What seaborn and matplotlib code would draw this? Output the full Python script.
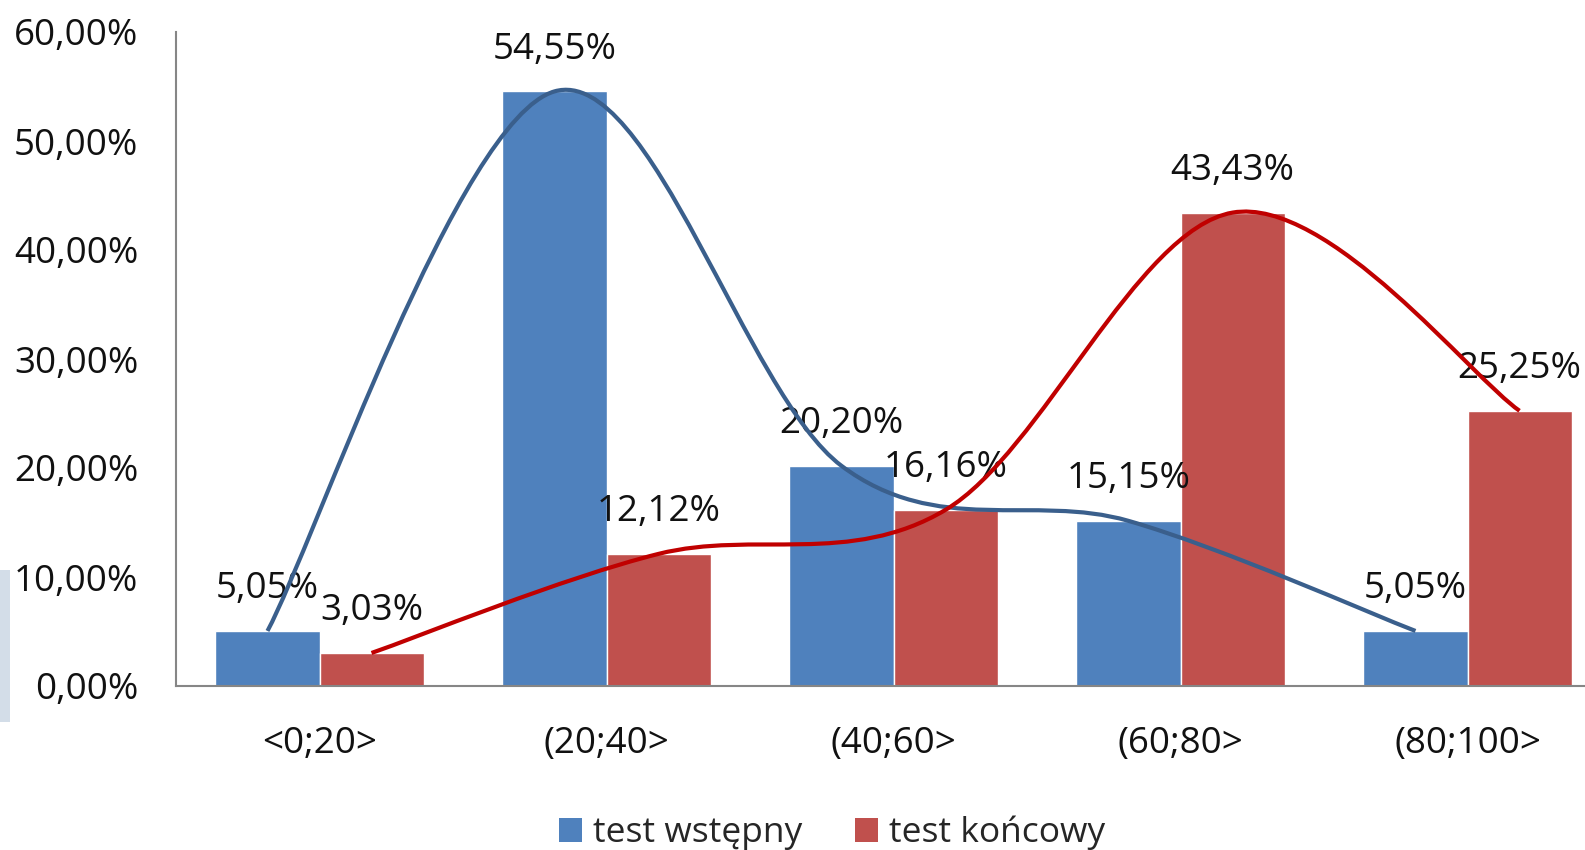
import numpy as np
import pandas as pd
import matplotlib
matplotlib.use("Agg")
import matplotlib.pyplot as plt
from matplotlib.path import Path
from matplotlib.patches import PathPatch, Patch, Rectangle
import seaborn as sns

categories = ["<0;20>", "(20;40>", "(40;60>", "(60;80>", "(80;100>"]
series_names = ["test wstępny", "test końcowy"]
test_wstepny = [5.05, 54.55, 20.20, 15.15, 5.05]
test_koncowy = [3.03, 12.12, 16.16, 43.43, 25.25]
y_ticks = [0, 10, 20, 30, 40, 50, 60]

bar_colors = ["#4F81BD", "#C0504D"]
line_colors = ["#3A5F8C", "#C00000"]

sns.set_theme(style="white")
plt.rcParams["font.family"] = ["Open Sans", "DejaVu Sans"]

df = pd.DataFrame({
    "cat": categories * 2,
    "series": [series_names[0]] * 5 + [series_names[1]] * 5,
    "value": test_wstepny + test_koncowy,
})

FW, FH = 1585, 850
fig = plt.figure(figsize=(FW / 100, FH / 100), dpi=100)
fig.patch.set_facecolor("white")

# faint background decoration at the left edge
fig.patches.append(Rectangle((0, 1 - 722 / FH), 10 / FW, 152 / FH,
                             transform=fig.transFigure, facecolor="#D3DDE8",
                             edgecolor="none", zorder=0))

ax = fig.add_axes([176 / FW, 1 - 686 / FH, 1435 / FW, 654 / FH])
ax.set_facecolor("white")
ax.patch.set_alpha(0)

W = 0.725
sns.barplot(data=df, x="cat", y="value", hue="series", order=categories,
            hue_order=series_names, palette=bar_colors, width=W,
            saturation=1, ax=ax, legend=False, errorbar=None, zorder=2)

ax.set_xlim(-0.5, 4.5)
ax.set_ylim(0, 60)
ax.set_yticks(y_ticks)
ax.set_yticklabels([f"{t:.2f}".replace(".", ",") + "%" for t in y_ticks])
ax.set_xlabel("")
ax.set_ylabel("")
ax.tick_params(axis="y", length=0, pad=27, labelsize=26.5, labelcolor="#111111")
ax.tick_params(axis="x", length=0, pad=29, labelsize=26.5, labelcolor="#111111")
for s in ["top", "right"]:
    ax.spines[s].set_visible(False)
for s in ["left", "bottom"]:
    ax.spines[s].set_color("#868686")
    ax.spines[s].set_linewidth(1.5)

half = W / 4.0
offsets = [-half, half]
series_vals = [test_wstepny, test_koncowy]

# data labels
for vals, off in zip(series_vals, offsets):
    for i, v in enumerate(vals):
        ax.annotate(f"{v:.2f}".replace(".", ",") + "%", (i + off, v),
                    xytext=(0, 30), textcoords="offset points",
                    ha="center", va="center", fontsize=26.5, color="#111111",
                    zorder=3)

# smoothed lines (Bezier through the bar tops)
def smooth_path(xs, ys):
    pts = np.column_stack([xs, ys])
    n = len(pts)
    verts = [pts[0]]
    codes = [Path.MOVETO]
    for i in range(n - 1):
        p_prev = pts[i - 1] if i > 0 else pts[i]
        p_next2 = pts[i + 2] if i + 2 < n else pts[i + 1]
        c1 = pts[i] + (pts[i + 1] - p_prev) / 6.0
        c2 = pts[i + 1] - (p_next2 - pts[i]) / 6.0
        verts += [c1, c2, pts[i + 1]]
        codes += [Path.CURVE4] * 3
    return Path(verts, codes)

for vals, off, col in zip(series_vals, offsets, line_colors):
    xs = np.arange(len(vals)) + off
    patch = PathPatch(smooth_path(xs, np.array(vals, dtype=float)),
                      facecolor="none", edgecolor=col, linewidth=3,
                      zorder=4, transform=ax.transData, clip_on=False)
    ax.add_patch(patch)

handles = [Patch(facecolor=c, edgecolor="none") for c in bar_colors]
fig.legend(handles, series_names, loc="center", bbox_to_anchor=(832 / FW, 1 - 833 / FH),
           ncol=2, frameon=False, fontsize=25.5, handlelength=0.65, handleheight=0.65,
           handletextpad=0.3, columnspacing=1.5, borderaxespad=0, borderpad=0)

fig.savefig("out.png", dpi=100, facecolor="white")
